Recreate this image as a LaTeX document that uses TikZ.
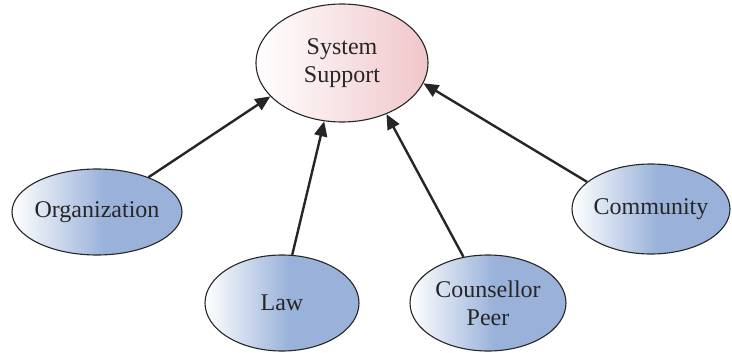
\documentclass[tikz,border=0pt]{standalone}
\usepackage{fontspec}
\setmainfont{Liberation Serif}
\usetikzlibrary{shapes.geometric,arrows.meta}
\definecolor{bluefill}{RGB}{154,178,218}
\definecolor{pinkfill}{RGB}{240,198,202}
\pgfdeclarehorizontalshading{blueshade}{100bp}{color(0bp)=(white); color(25bp)=(white); color(52bp)=(bluefill); color(100bp)=(bluefill)}
\pgfdeclarehorizontalshading{pinkshade}{100bp}{color(0bp)=(white); color(25bp)=(white); color(75bp)=(pinkfill); color(100bp)=(pinkfill)}
\tikzset{
  oval/.style={ellipse, draw=black!85, line width=1.1pt, inner ysep=0pt, inner xsep=-20pt, align=center,
    font=\fontsize{24}{28}\selectfont, text=black!85},
  blueoval/.style={oval, shading=blueshade},
  pinkoval/.style={oval, shading=pinkshade},
  conn/.style={line width=2.4pt, draw=black!85, -{Triangle[length=15pt,width=13pt]}}
}
\begin{document}
\begin{tikzpicture}[x=1pt,y=-1pt]
\useasboundingbox (0,0) rectangle (732,353);
\node[pinkoval, minimum width=172pt, minimum height=118pt] (ss) at (342,63) {System\\Support};
\node[blueoval, minimum width=170pt, minimum height=86pt] (org) at (97,212) {Organization};
\node[blueoval, minimum width=154pt, minimum height=96pt] (law) at (282,303) {Law};
\node[blueoval, minimum width=156pt, minimum height=96pt] (cp) at (488,303) {Counsellor\\Peer};
\node[blueoval, minimum width=158pt, minimum height=90pt] (com) at (651,209) {Community};
\draw[conn] (org.34) -- (ss.205);
\draw[conn] (law.78) -- (ss.253);
\draw[conn] (cp.118) -- (ss.311);
\draw[conn] (com.157) -- (ss.346);
\end{tikzpicture}
\end{document}
